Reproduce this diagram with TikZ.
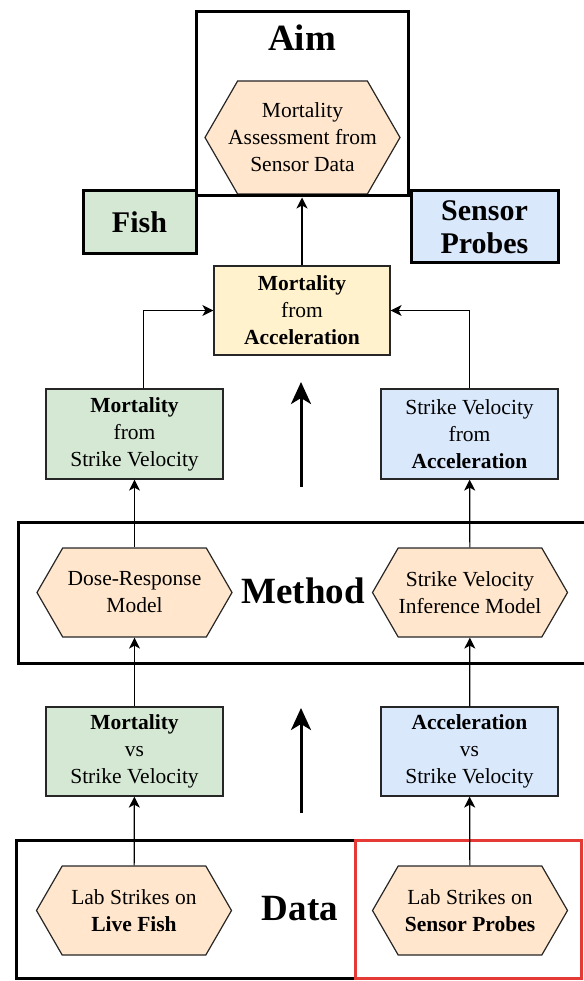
\documentclass[tikz,border=0pt]{standalone}
\usepackage{fontspec}
\setmainfont{Liberation Serif}
\usetikzlibrary{arrows.meta, positioning, shapes.symbols}

\definecolor{hexfill}{HTML}{FFE6CC}
\definecolor{fishgreen}{HTML}{D5E8D4}
\definecolor{probeblue}{HTML}{DAE8FC}
\definecolor{accyellow}{HTML}{FFF2CC}
\definecolor{hilite}{HTML}{E53935}

\begin{document}
\begin{tikzpicture}[x=1pt, y=-1pt,
  box/.style={draw=black!85, line width=1.2pt, align=center, font=\fontsize{21.5}{27}\selectfont,
    inner sep=2pt, minimum width=177pt, minimum height=90pt},
  hexbox/.style={signal, signal to=west and east, signal pointer angle=120, draw=black!85,
    line width=1.2pt, fill=hexfill, inner sep=0pt, minimum width=195pt, minimum height=89pt},
  hextext/.style={align=center, font=\fontsize{21.5}{27}\selectfont, inner sep=0pt},
  frame/.style={draw, line width=3pt, inner sep=0pt},
  title/.style={font=\fontsize{37}{40}\selectfont\bfseries},
  tag/.style={box, line width=3pt, draw=black, font=\fontsize{30}{33}\selectfont\bfseries},
  bigarrow/.style={line width=3pt, -{Stealth[length=22pt, width=20pt, inset=6pt]}},
  >={Stealth[length=11pt, width=11pt, inset=3pt]}]
\useasboundingbox (0,0) rectangle (583,981);

% aim
\node[hexbox, minimum height=113pt,
  label={[hextext]center:{Mortality\\Assessment from\\Sensor Data}}] (aimhex) at (302.5,137.5) {};
\node[frame, minimum width=212pt, minimum height=184pt] (aim) at (302,104) {};
\node[title] (aimlbl) at (302,38) {Aim};
\node[tag, fill=fishgreen, minimum width=113pt, minimum height=63pt] (fish) at (139.5,222.5) {Fish};
\node[tag, fill=probeblue, minimum width=147pt, minimum height=72pt] (probes) at (484.5,227) {Sensor\\Probes};

% results
\node[box, fill=accyellow, minimum width=176pt, minimum height=89pt] (accel) at (302,310.5)
  {\textbf{Mortality}\\from\\\textbf{Acceleration}};
\node[box, fill=fishgreen] (mortsv) at (134.5,434) {\textbf{Mortality}\\from\\Strike Velocity};
\node[box, fill=probeblue] (svacc) at (469.5,434) {Strike Velocity\\from\\\textbf{Acceleration}};

% method
\node[frame, minimum width=570pt, minimum height=141pt] (method) at (303,592.5) {};
\node[title] (methodlbl) at (303,591) {Method};
\node[hexbox, label={[hextext]center:{Dose-Response\\Model}}] (dose) at (134.5,592.5) {};
\node[hexbox, label={[hextext]center:{Strike Velocity\\Inference Model}}] (svinf) at (470,592.5) {};

\node[box, minimum height=89pt, fill=fishgreen] (mortvs) at (134.5,751.5) {\textbf{Mortality}\\vs\\Strike Velocity};
\node[box, minimum height=89pt, fill=probeblue] (accvs) at (469.5,751.5) {\textbf{Acceleration}\\vs\\Strike Velocity};

% data
\node[frame, minimum width=565pt, minimum height=138pt] (data) at (298.5,909.5) {};
\node[frame, draw=hilite, minimum width=226pt, minimum height=138pt] (focus) at (468.5,909.5) {};
\node[title] (datalbl) at (300,909) {Data};
\node[hexbox, label={[hextext]center:{Lab Strikes on\\\textbf{Live Fish}}}] (livefish) at (134,910.5) {};
\node[hexbox, label={[hextext]center:{Lab Strikes on\\\textbf{Sensor Probes}}}] (probehex) at (470,910.5) {};

% connectors
\draw[->, line width=1.2pt] (accel) -- (aim.south);
\draw[->, line width=1.2pt] ([xshift=9pt]mortsv.north) |- (accel.west);
\draw[->, line width=1.2pt] (svacc.north) |- (accel.east);
\draw[->, line width=1.2pt] (dose) -- (mortsv);
\draw[->, line width=1.2pt] (svinf) -- (svacc);
\draw[->, line width=1.2pt] (mortvs) -- (dose);
\draw[->, line width=1.2pt] (accvs) -- (svinf);
\draw[->, line width=1.2pt] (livefish) -- (mortvs);
\draw[->, line width=1.2pt] (probehex) -- (accvs);

\coordinate (upa) at (301,487);
\coordinate (upb) at (301,382);
\coordinate (upc) at (301,813);
\coordinate (upd) at (301,708);
\draw[bigarrow] (upa) -- (upb);
\draw[bigarrow] (upc) -- (upd);
\end{tikzpicture}
\end{document}
